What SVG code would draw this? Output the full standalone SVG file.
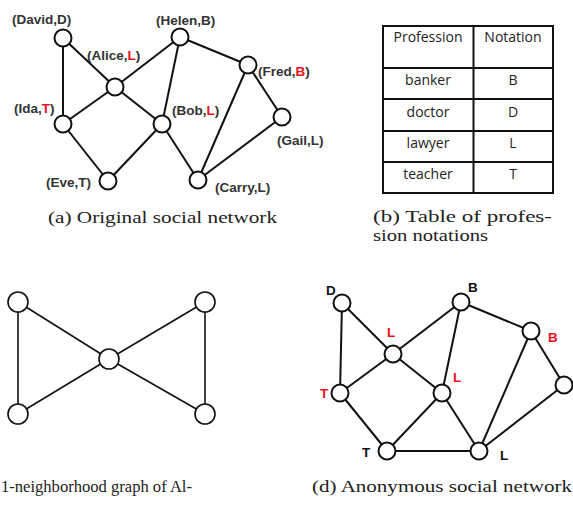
<svg xmlns="http://www.w3.org/2000/svg" width="573" height="515" viewBox="0 0 573 515">
<style>
.e{stroke:#111;stroke-width:2;fill:none}
.ec{stroke:#111;stroke-width:1.6;fill:none}
.n{fill:#fff;stroke:#111;stroke-width:2}
.nc{fill:#fff;stroke:#111;stroke-width:1.6}
.lb{font-family:"Liberation Sans",Arial,sans-serif;font-weight:bold;font-size:13.5px;fill:#333}
.r{fill:#e8141c}
.k{fill:#111}
.cap{font-family:"Liberation Serif","Times New Roman",serif;font-size:17.5px;fill:#222}
.cap2{font-family:"Liberation Serif","Times New Roman",serif;font-size:16px;fill:#222}
.tb{font-family:"Open Sans","Noto Sans",sans-serif;font-size:14px;fill:#222;text-anchor:middle}
.tl{stroke:#111;stroke-width:2;fill:none}
</style>
<rect width="573" height="515" fill="#fff"/>

<!-- (a) original social network -->
<g id="a-edges">
<line class="e" x1="63" y1="38" x2="63" y2="124"/>
<line class="e" x1="63" y1="38" x2="115" y2="87"/>
<line class="e" x1="115" y1="87" x2="180" y2="37"/>
<line class="e" x1="115" y1="87" x2="63" y2="124"/>
<line class="e" x1="115" y1="87" x2="162" y2="124"/>
<line class="e" x1="180" y1="37" x2="162" y2="124"/>
<line class="e" x1="180" y1="37" x2="248" y2="65"/>
<line class="e" x1="248" y1="65" x2="282" y2="117"/>
<line class="e" x1="248" y1="65" x2="198" y2="180"/>
<line class="e" x1="282" y1="117" x2="198" y2="180"/>
<line class="e" x1="63" y1="124" x2="108" y2="181"/>
<line class="e" x1="108" y1="181" x2="162" y2="124"/>
<line class="e" x1="162" y1="124" x2="198" y2="180"/>
</g>
<g id="a-david"><circle class="n" cx="63" cy="38" r="8.5"/><text class="lb" x="12" y="24">(David,D)</text></g>
<g id="a-alice"><circle class="n" cx="115" cy="87" r="8.5"/><text class="lb" x="87" y="60">(Alice,<tspan class="r">L</tspan>)</text></g>
<g id="a-helen"><circle class="n" cx="180" cy="37" r="8.5"/><text class="lb" x="156" y="25">(Helen,B)</text></g>
<g id="a-fred"><circle class="n" cx="248" cy="65" r="8.5"/><text class="lb" x="258" y="76">(Fred,<tspan class="r">B</tspan>)</text></g>
<g id="a-ida"><circle class="n" cx="63" cy="124" r="8.5"/><text class="lb" x="14" y="113">(Ida,<tspan class="r">T</tspan>)</text></g>
<g id="a-bob"><circle class="n" cx="162" cy="124" r="8.5"/><text class="lb" x="172" y="115">(Bob,<tspan class="r">L</tspan>)</text></g>
<g id="a-gail"><circle class="n" cx="282" cy="117" r="8.5"/><text class="lb" x="277" y="145">(Gail,L)</text></g>
<g id="a-eve"><circle class="n" cx="108" cy="181" r="8.5"/><text class="lb" x="46" y="187">(Eve,T)</text></g>
<g id="a-carry"><circle class="n" cx="198" cy="180" r="8.5"/><text class="lb" x="215" y="192">(Carry,L)</text></g>
<text class="cap" x="48" y="223" textLength="229" lengthAdjust="spacingAndGlyphs">(a) Original social network</text>

<!-- (b) table -->
<g id="table">
<rect class="tl" x="383" y="26" width="170" height="167"/>
<line class="tl" x1="473.5" y1="26" x2="473.5" y2="193"/>
<line class="tl" x1="383" y1="68" x2="553" y2="68"/>
<line class="tl" x1="383" y1="99" x2="553" y2="99"/>
<line class="tl" x1="383" y1="131" x2="553" y2="131"/>
<line class="tl" x1="383" y1="162" x2="553" y2="162"/>
<text class="tb" x="428" y="42">Profession</text>
<text class="tb" x="513" y="42">Notation</text>
<text class="tb" x="428" y="85">banker</text>
<text class="tb" x="513" y="85">B</text>
<text class="tb" x="428" y="117">doctor</text>
<text class="tb" x="513" y="117">D</text>
<text class="tb" x="428" y="148">lawyer</text>
<text class="tb" x="513" y="148">L</text>
<text class="tb" x="428" y="179">teacher</text>
<text class="tb" x="513" y="179">T</text>
</g>
<text class="cap2" x="373" y="222" textLength="179" lengthAdjust="spacingAndGlyphs">(b) Table of profes-</text>
<text class="cap2" x="373" y="241" textLength="115" lengthAdjust="spacingAndGlyphs">sion notations</text>

<!-- (c) 1-neighborhood graph -->
<g id="c-edges">
<line class="ec" x1="18" y1="302" x2="18" y2="414"/>
<line class="ec" x1="18" y1="302" x2="109" y2="359"/>
<line class="ec" x1="18" y1="414" x2="109" y2="359"/>
<line class="ec" x1="205" y1="302" x2="109" y2="359"/>
<line class="ec" x1="205" y1="414" x2="109" y2="359"/>
<line class="ec" x1="205" y1="302" x2="205" y2="414"/>
</g>
<g id="c-tl"><circle class="nc" cx="18" cy="302" r="10"/></g>
<g id="c-bl"><circle class="nc" cx="18" cy="414" r="10"/></g>
<g id="c-center"><circle class="nc" cx="109" cy="359" r="10"/></g>
<g id="c-tr"><circle class="nc" cx="205" cy="302" r="10"/></g>
<g id="c-br"><circle class="nc" cx="205" cy="414" r="10"/></g>
<text class="cap" x="1" y="492" textLength="191" lengthAdjust="spacingAndGlyphs">1-neighborhood graph of Al-</text>

<!-- (d) anonymous social network -->
<g id="d-edges">
<line class="e" x1="342" y1="303" x2="340" y2="393"/>
<line class="e" x1="342" y1="303" x2="393" y2="354"/>
<line class="e" x1="393" y1="354" x2="461" y2="302"/>
<line class="e" x1="393" y1="354" x2="340" y2="393"/>
<line class="e" x1="393" y1="354" x2="442" y2="393"/>
<line class="e" x1="461" y1="302" x2="442" y2="393"/>
<line class="e" x1="461" y1="302" x2="531" y2="331"/>
<line class="e" x1="531" y1="331" x2="564" y2="385"/>
<line class="e" x1="531" y1="331" x2="479" y2="451"/>
<line class="e" x1="564" y1="385" x2="479" y2="451"/>
<line class="e" x1="340" y1="393" x2="387" y2="451"/>
<line class="e" x1="387" y1="451" x2="442" y2="393"/>
<line class="e" x1="442" y1="393" x2="479" y2="451"/>
<line class="e" x1="387" y1="451" x2="479" y2="451"/>
</g>
<g id="d-d"><circle class="n" cx="342" cy="303" r="8.5"/><text class="lb k" x="326" y="295">D</text></g>
<g id="d-btop"><circle class="n" cx="461" cy="302" r="8.5"/><text class="lb k" x="468" y="292">B</text></g>
<g id="d-bright"><circle class="n" cx="531" cy="331" r="8.5"/><text class="lb r" x="548" y="342">B</text></g>
<g id="d-lup"><circle class="n" cx="393" cy="354" r="8.5"/><text class="lb r" x="387" y="337">L</text></g>
<g id="d-tleft"><circle class="n" cx="340" cy="393" r="8.5"/><text class="lb r" x="320" y="398">T</text></g>
<g id="d-lmid"><circle class="n" cx="442" cy="393" r="8.5"/><text class="lb r" x="453" y="382">L</text></g>
<g id="d-gail"><circle class="n" cx="564" cy="385" r="8.5"/></g>
<g id="d-tbot"><circle class="n" cx="387" cy="451" r="8.5"/><text class="lb k" x="362" y="457">T</text></g>
<g id="d-lbot"><circle class="n" cx="479" cy="451" r="8.5"/><text class="lb k" x="500" y="460">L</text></g>
<text class="cap" x="312" y="492" textLength="260" lengthAdjust="spacingAndGlyphs">(d) Anonymous social network</text>
</svg>
